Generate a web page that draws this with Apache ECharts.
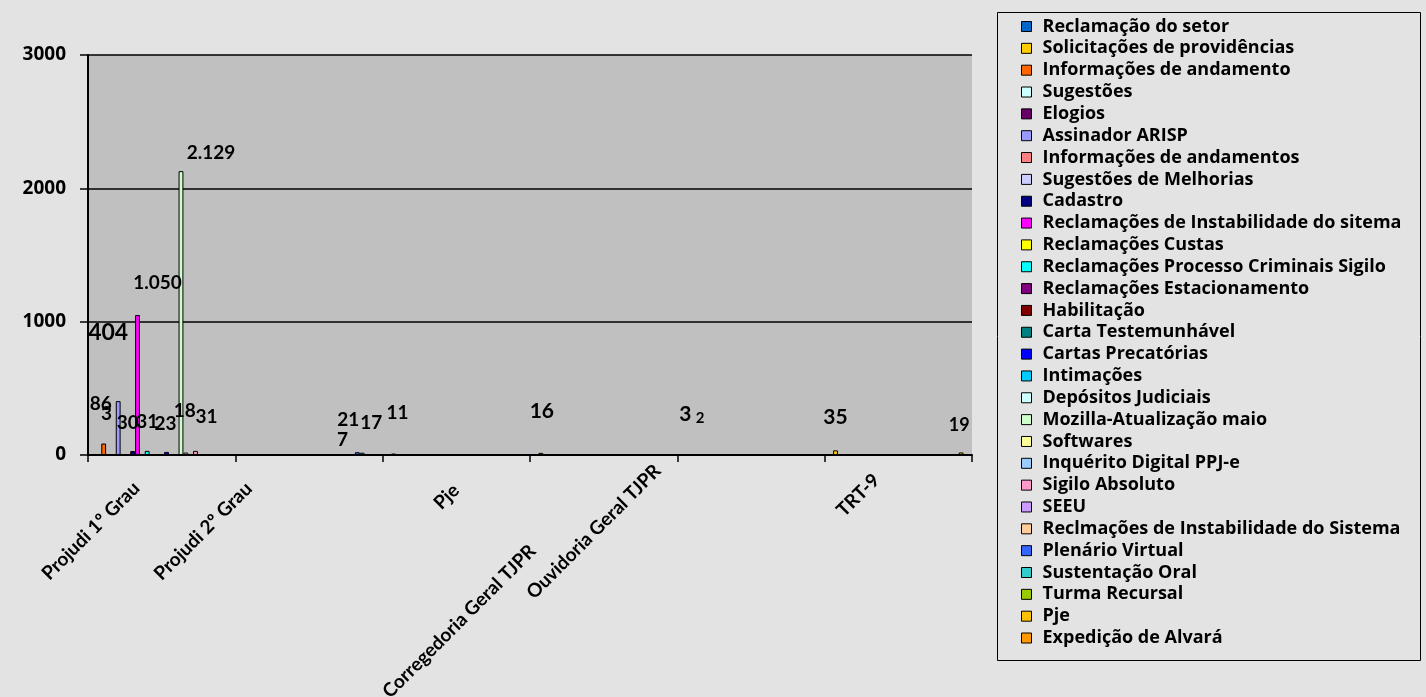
<!DOCTYPE html>
<html><head><meta charset="utf-8">
<script src="https://cdn.jsdelivr.net/npm/echarts@6/dist/echarts.min.js"></script>
<style>html,body{margin:0;padding:0;background:#e3e3e3}#c{width:1426px;height:697px}</style>
</head><body><div id="c"></div>
<script>
const categories = ['Projudi 1º Grau', 'Projudi 2º Grau', 'Pje', 'Corregedoria Geral TJPR', 'Ouvidoria Geral TJPR', 'TRT-9'];
const seriesNames = [
  'Reclamação do setor', 'Solicitações de providências', 'Informações de andamento', 'Sugestões',
  'Elogios', 'Assinador ARISP', 'Informações de andamentos', 'Sugestões de Melhorias', 'Cadastro',
  'Reclamações de Instabilidade do sitema', 'Reclamações Custas', 'Reclamações Processo Criminais Sigilo',
  'Reclamações Estacionamento', 'Habilitação', 'Carta Testemunhável', 'Cartas Precatórias', 'Intimações',
  'Depósitos Judiciais', 'Mozilla-Atualização maio', 'Softwares', 'Inquérito Digital PPJ-e',
  'Sigilo Absoluto', 'SEEU', 'Reclmações de Instabilidade do Sistema', 'Plenário Virtual',
  'Sustentação Oral', 'Turma Recursal', 'Pje', 'Expedição de Alvará'
];
const seriesColors = [
  '#0066CC', '#FFCC00', '#FF6600', '#CCFFFF', '#660066', '#9999FF', '#FF8080', '#CCCCFF', '#000080',
  '#FF00FF', '#FFFF00', '#00FFFF', '#800080', '#800000', '#008080', '#0000FF', '#00CCFF', '#CCFFFF',
  '#CCFFCC', '#FFFF99', '#99CCFF', '#FF99CC', '#CC99FF', '#FFCC99', '#3366FF', '#33CCCC', '#99CC00',
  '#FFC000', '#FF9900'
];
// values per category, one entry per series (null = no bar)
const projudi1 = [null, null, 86, 3, null, 404, null, null, 30, 1050, null, 31, null, null, null, 23, null, null, 2129, 18, null, 31, null, null, null, null, null, null, null];
const projudi2 = [null, null, null, null, null, null, null, null, null, null, null, null, null, null, null, null, null, null, null, null, null, null, null, 7, 21, 17, null, null, null];
const pje = [null, 11, null, null, null, null, null, null, null, null, null, null, null, null, null, null, null, null, null, null, null, null, null, null, null, null, null, null, null];
const corregedoria = [null, 16, null, null, null, null, null, null, null, null, null, null, null, null, null, null, null, null, null, null, null, null, null, null, null, null, null, null, null];
const ouvidoria = [3, 2, null, null, null, null, null, null, null, null, null, null, null, null, null, null, null, null, null, null, null, null, null, null, null, null, null, null, null];
const trt9 = [null, 35, null, null, null, null, null, null, null, null, null, null, null, null, null, null, null, null, null, null, null, null, null, null, null, null, null, 19, null];
const yTicks = [0, 1000, 2000, 3000];

const byCategory = [projudi1, projudi2, pje, corregedoria, ouvidoria, trt9];

// label placement tweaks (style only): key "series,category" -> [dx, dy, fontSize]
const labelNudge = {
  '2,0': [-3, -25, 19], '3,0': [-2, -26, 19], '5,0': [-10, -52, 23], '8,0': [-5, -14, 19],
  '9,0': [20, -18, 19], '11,0': [0, -14, 19], '15,0': [-1, -14, 19], '18,0': [30, -4, 19],
  '19,0': [-1, -27, 19], '21,0': [11, -19, 19],
  '23,1': [-10, 0, 19], '24,1': [-9, -18, 19], '25,1': [9, -15, 19],
  '1,2': [4, -26, 19], '1,3': [1, -26, 21], '0,4': [2, -25, 21], '1,4': [12, -24, 15],
  '1,5': [0, -18, 21], '27,5': [-2, -13, 18]
};
// category label shift (style only): [right padding, top padding, bottom padding]
const catLabelPad = [[32, 0, 7], [57, 0, 56], [16, 31, 0], [109, 17, 0], [68, 0, 128], [24, 0, 14]];

function fmt(v) { return String(v).replace(/\B(?=(\d{3})+(?!\d))/g, '.'); }
const FONT = 'Lato';

const series = seriesNames.map((name, si) => ({
  name: name,
  type: 'bar',
  barGap: '0%',
  barCategoryGap: '4.9%',
  itemStyle: { color: seriesColors[si], borderColor: '#000', borderWidth: 1 },
  label: {
    show: true, position: 'top', color: '#000', fontFamily: FONT, fontWeight: 'bold', fontSize: 19,
    formatter: p => fmt(p.value)
  },
  data: byCategory.map((vals, ci) => {
    const v = vals[si];
    if (v === null) return null;
    const n = labelNudge[si + ',' + ci];
    return n ? { value: v, label: { offset: [n[0], n[1]], fontSize: n[2] } } : { value: v };
  })
}));

const rich = {};
catLabelPad.forEach((p, i) => {
  rich['c' + i] = { color: '#000', fontFamily: FONT, fontWeight: 'bold', fontSize: 19, padding: [p[1], p[0], p[2], 0] };
});

const chart = echarts.init(document.getElementById('c'), null, { renderer: 'canvas' });
chart.setOption({
  backgroundColor: '#e3e3e3',
  animation: false,
  grid: {
    left: 88, right: 454, top: 55, bottom: 242, show: true, backgroundColor: '#C0C0C0', borderWidth: 0,
    containLabel: false, outerBoundsMode: 'none'
  },
  legend: {
    orient: 'vertical', left: 1021, top: 17.5, padding: 0, itemGap: 3.84,
    itemWidth: 10, itemHeight: 10, icon: 'rect',
    itemStyle: { borderColor: '#000', borderWidth: 1 },
    textStyle: { fontFamily: 'Open Sans', fontWeight: 'bold', fontSize: 18, color: '#000', padding: [0, 0, 0, 6] },
    data: seriesNames
  },
  graphic: [{
    type: 'rect', left: 995, top: 10, shape: { width: 423, height: 648 },
    style: { fill: 'none', stroke: '#000', lineWidth: 1 }, silent: true
  }],
  xAxis: {
    type: 'category', data: categories,
    axisLine: { lineStyle: { color: '#000', width: 2 } },
    axisTick: { show: true, length: 7, lineStyle: { color: '#000', width: 1.5 } },
    axisLabel: {
      interval: 0, rotate: 45, margin: 10, color: '#000', fontFamily: FONT, fontWeight: 'bold', fontSize: 19,
      formatter: (v, i) => '{c' + i + '|' + v + '}', rich: rich
    }
  },
  yAxis: {
    type: 'value', min: yTicks[0], max: yTicks[yTicks.length - 1], interval: yTicks[1] - yTicks[0],
    axisLine: { show: true, lineStyle: { color: '#000', width: 2 } },
    axisTick: { show: true, length: 8, lineStyle: { color: '#000', width: 1.5 } },
    axisLabel: { margin: 22, color: '#000', fontFamily: 'Open Sans', fontWeight: 'bold', fontSize: 19, formatter: v => String(v) },
    splitLine: { show: true, lineStyle: { color: '#000', width: 1.5 } }
  },
  series: series
});
</script></body></html>
